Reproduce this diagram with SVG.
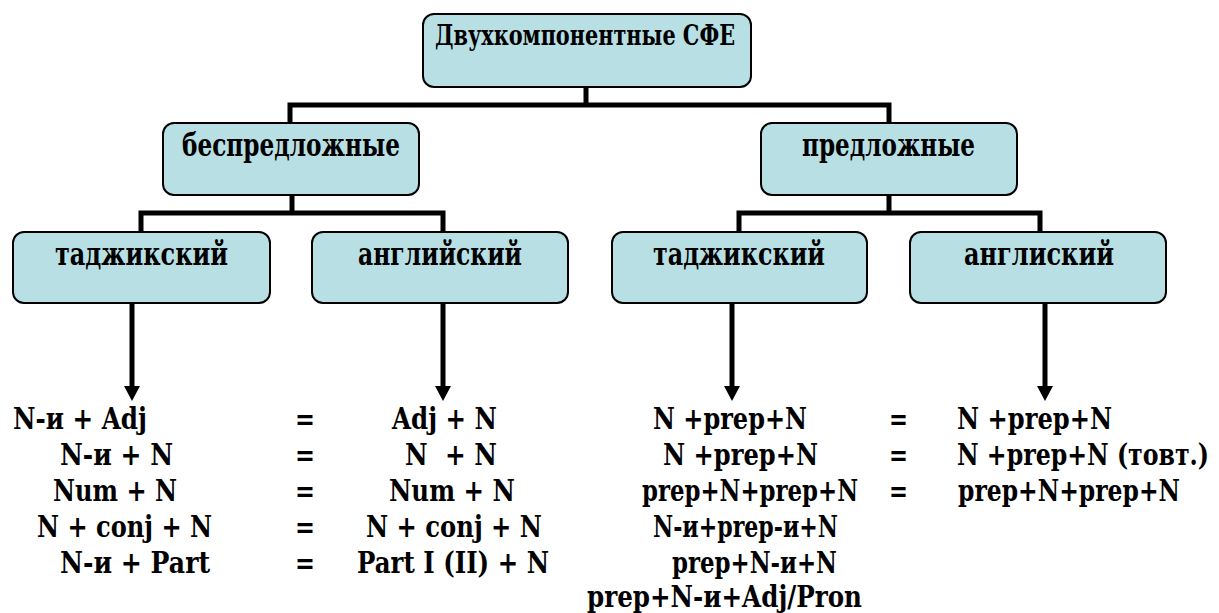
<svg xmlns="http://www.w3.org/2000/svg" width="1219" height="613" viewBox="0 0 1219 613">
<style>
.box{fill:#b8dfe3;stroke:#000;stroke-width:2}
.t{font-weight:bold;fill:#000}
.lvl{font-size:32px}
.top{font-size:27px}
.row{font-size:29px}
.conn{stroke:#000;stroke-width:5;fill:none;stroke-linecap:square}
.arr{stroke:#000;stroke-width:5;fill:none}
</style>
<defs>
<marker id="ah" viewBox="0 0 15 16" refX="0" refY="8" markerWidth="15" markerHeight="16" markerUnits="userSpaceOnUse" orient="auto">
<path d="M0,0 L15,8 L0,16 z" fill="#000"/>
</marker>
</defs>
<g id="connectors">
<path class="conn" d="M586,88 V105 M290,105 H889 M290,105 V121 M889,105 V121"/>
<path class="conn" d="M292,196 V213 M141,213 H443 M141,213 V230 M443,213 V230"/>
<path class="conn" d="M889,196 V213 M739,213 H1040 M739,213 V230 M1040,213 V230"/>
<line class="arr" x1="132" y1="304" x2="132" y2="386" marker-end="url(#ah)"/>
<line class="arr" x1="443" y1="304" x2="443" y2="386" marker-end="url(#ah)"/>
<line class="arr" x1="732" y1="304" x2="732" y2="386" marker-end="url(#ah)"/>
<line class="arr" x1="1045" y1="304" x2="1045" y2="386" marker-end="url(#ah)"/>
</g>
<g id="root">
<rect class="box" x="423" y="14" width="328" height="73" rx="11"/>
<text class="t top" font-family="DejaVu Serif" x="435" y="45" textLength="300" lengthAdjust="spacingAndGlyphs">Двухкомпонентные СФЕ</text>
</g>
<g id="bespredl">
<rect class="box" x="163" y="123" width="256" height="72" rx="11"/>
<text class="t lvl" font-family="DejaVu Serif" x="182" y="156" textLength="218" lengthAdjust="spacingAndGlyphs">беспредложные</text>
</g>
<g id="predl">
<rect class="box" x="761" y="123" width="256" height="72" rx="11"/>
<text class="t lvl" font-family="DejaVu Serif" x="802" y="156" textLength="173" lengthAdjust="spacingAndGlyphs">предложные</text>
</g>
<g id="tadj1">
<rect class="box" x="13" y="232" width="257" height="71" rx="11"/>
<text class="t lvl" font-family="DejaVu Serif" x="55" y="265" textLength="173" lengthAdjust="spacingAndGlyphs">таджикский</text>
</g>
<g id="eng1">
<rect class="box" x="312" y="232" width="256" height="71" rx="11"/>
<text class="t lvl" font-family="DejaVu Serif" x="358" y="265" textLength="164" lengthAdjust="spacingAndGlyphs">английский</text>
</g>
<g id="tadj2">
<rect class="box" x="612" y="232" width="255" height="71" rx="11"/>
<text class="t lvl" font-family="DejaVu Serif" x="653" y="265" textLength="172" lengthAdjust="spacingAndGlyphs">таджикский</text>
</g>
<g id="eng2">
<rect class="box" x="910" y="232" width="256" height="71" rx="11"/>
<text class="t lvl" font-family="DejaVu Serif" x="964" y="265" textLength="150" lengthAdjust="spacingAndGlyphs">англиский</text>
</g>
<g id="formulas" class="t row" font-family="DejaVu Serif">
<text x="13" y="429" textLength="134" lengthAdjust="spacingAndGlyphs">N-и + Adj</text>
<text x="60" y="465" textLength="113" lengthAdjust="spacingAndGlyphs">N-и + N</text>
<text x="53" y="501" textLength="124" lengthAdjust="spacingAndGlyphs">Num + N</text>
<text x="37" y="537" textLength="175" lengthAdjust="spacingAndGlyphs">N + conj + N</text>
<text x="60" y="573" textLength="150" lengthAdjust="spacingAndGlyphs">N-и + Part</text>
<text x="295" y="429" textLength="20" lengthAdjust="spacingAndGlyphs">=</text>
<text x="295" y="465" textLength="20" lengthAdjust="spacingAndGlyphs">=</text>
<text x="295" y="501" textLength="20" lengthAdjust="spacingAndGlyphs">=</text>
<text x="295" y="537" textLength="20" lengthAdjust="spacingAndGlyphs">=</text>
<text x="295" y="573" textLength="20" lengthAdjust="spacingAndGlyphs">=</text>
<text x="392" y="429" textLength="105" lengthAdjust="spacingAndGlyphs">Adj + N</text>
<text x="405" y="465" textLength="92" lengthAdjust="spacingAndGlyphs" xml:space="preserve">N  + N</text>
<text x="389" y="501" textLength="126" lengthAdjust="spacingAndGlyphs">Num + N</text>
<text x="366" y="537" textLength="176" lengthAdjust="spacingAndGlyphs">N + conj + N</text>
<text x="357" y="573" textLength="192" lengthAdjust="spacingAndGlyphs">Part I (II) + N</text>
<text x="653" y="429" textLength="154" lengthAdjust="spacingAndGlyphs">N +prep+N</text>
<text x="663" y="465" textLength="155" lengthAdjust="spacingAndGlyphs">N +prep+N</text>
<text x="642" y="501" textLength="216" lengthAdjust="spacingAndGlyphs">prep+N+prep+N</text>
<text x="653" y="537" textLength="185" lengthAdjust="spacingAndGlyphs">N-и+prep-и+N</text>
<text x="672" y="573" textLength="165" lengthAdjust="spacingAndGlyphs">prep+N-и+N</text>
<text x="587" y="607" textLength="275" lengthAdjust="spacingAndGlyphs">prep+N-и+Adj/Pron</text>
<text x="889" y="429" textLength="19" lengthAdjust="spacingAndGlyphs">=</text>
<text x="889" y="465" textLength="19" lengthAdjust="spacingAndGlyphs">=</text>
<text x="889" y="501" textLength="19" lengthAdjust="spacingAndGlyphs">=</text>
<text x="957" y="429" textLength="155" lengthAdjust="spacingAndGlyphs">N +prep+N</text>
<text x="957" y="465" textLength="252" lengthAdjust="spacingAndGlyphs">N +prep+N (товт.)</text>
<text x="958" y="501" textLength="222" lengthAdjust="spacingAndGlyphs">prep+N+prep+N</text>
</g>
</svg>
